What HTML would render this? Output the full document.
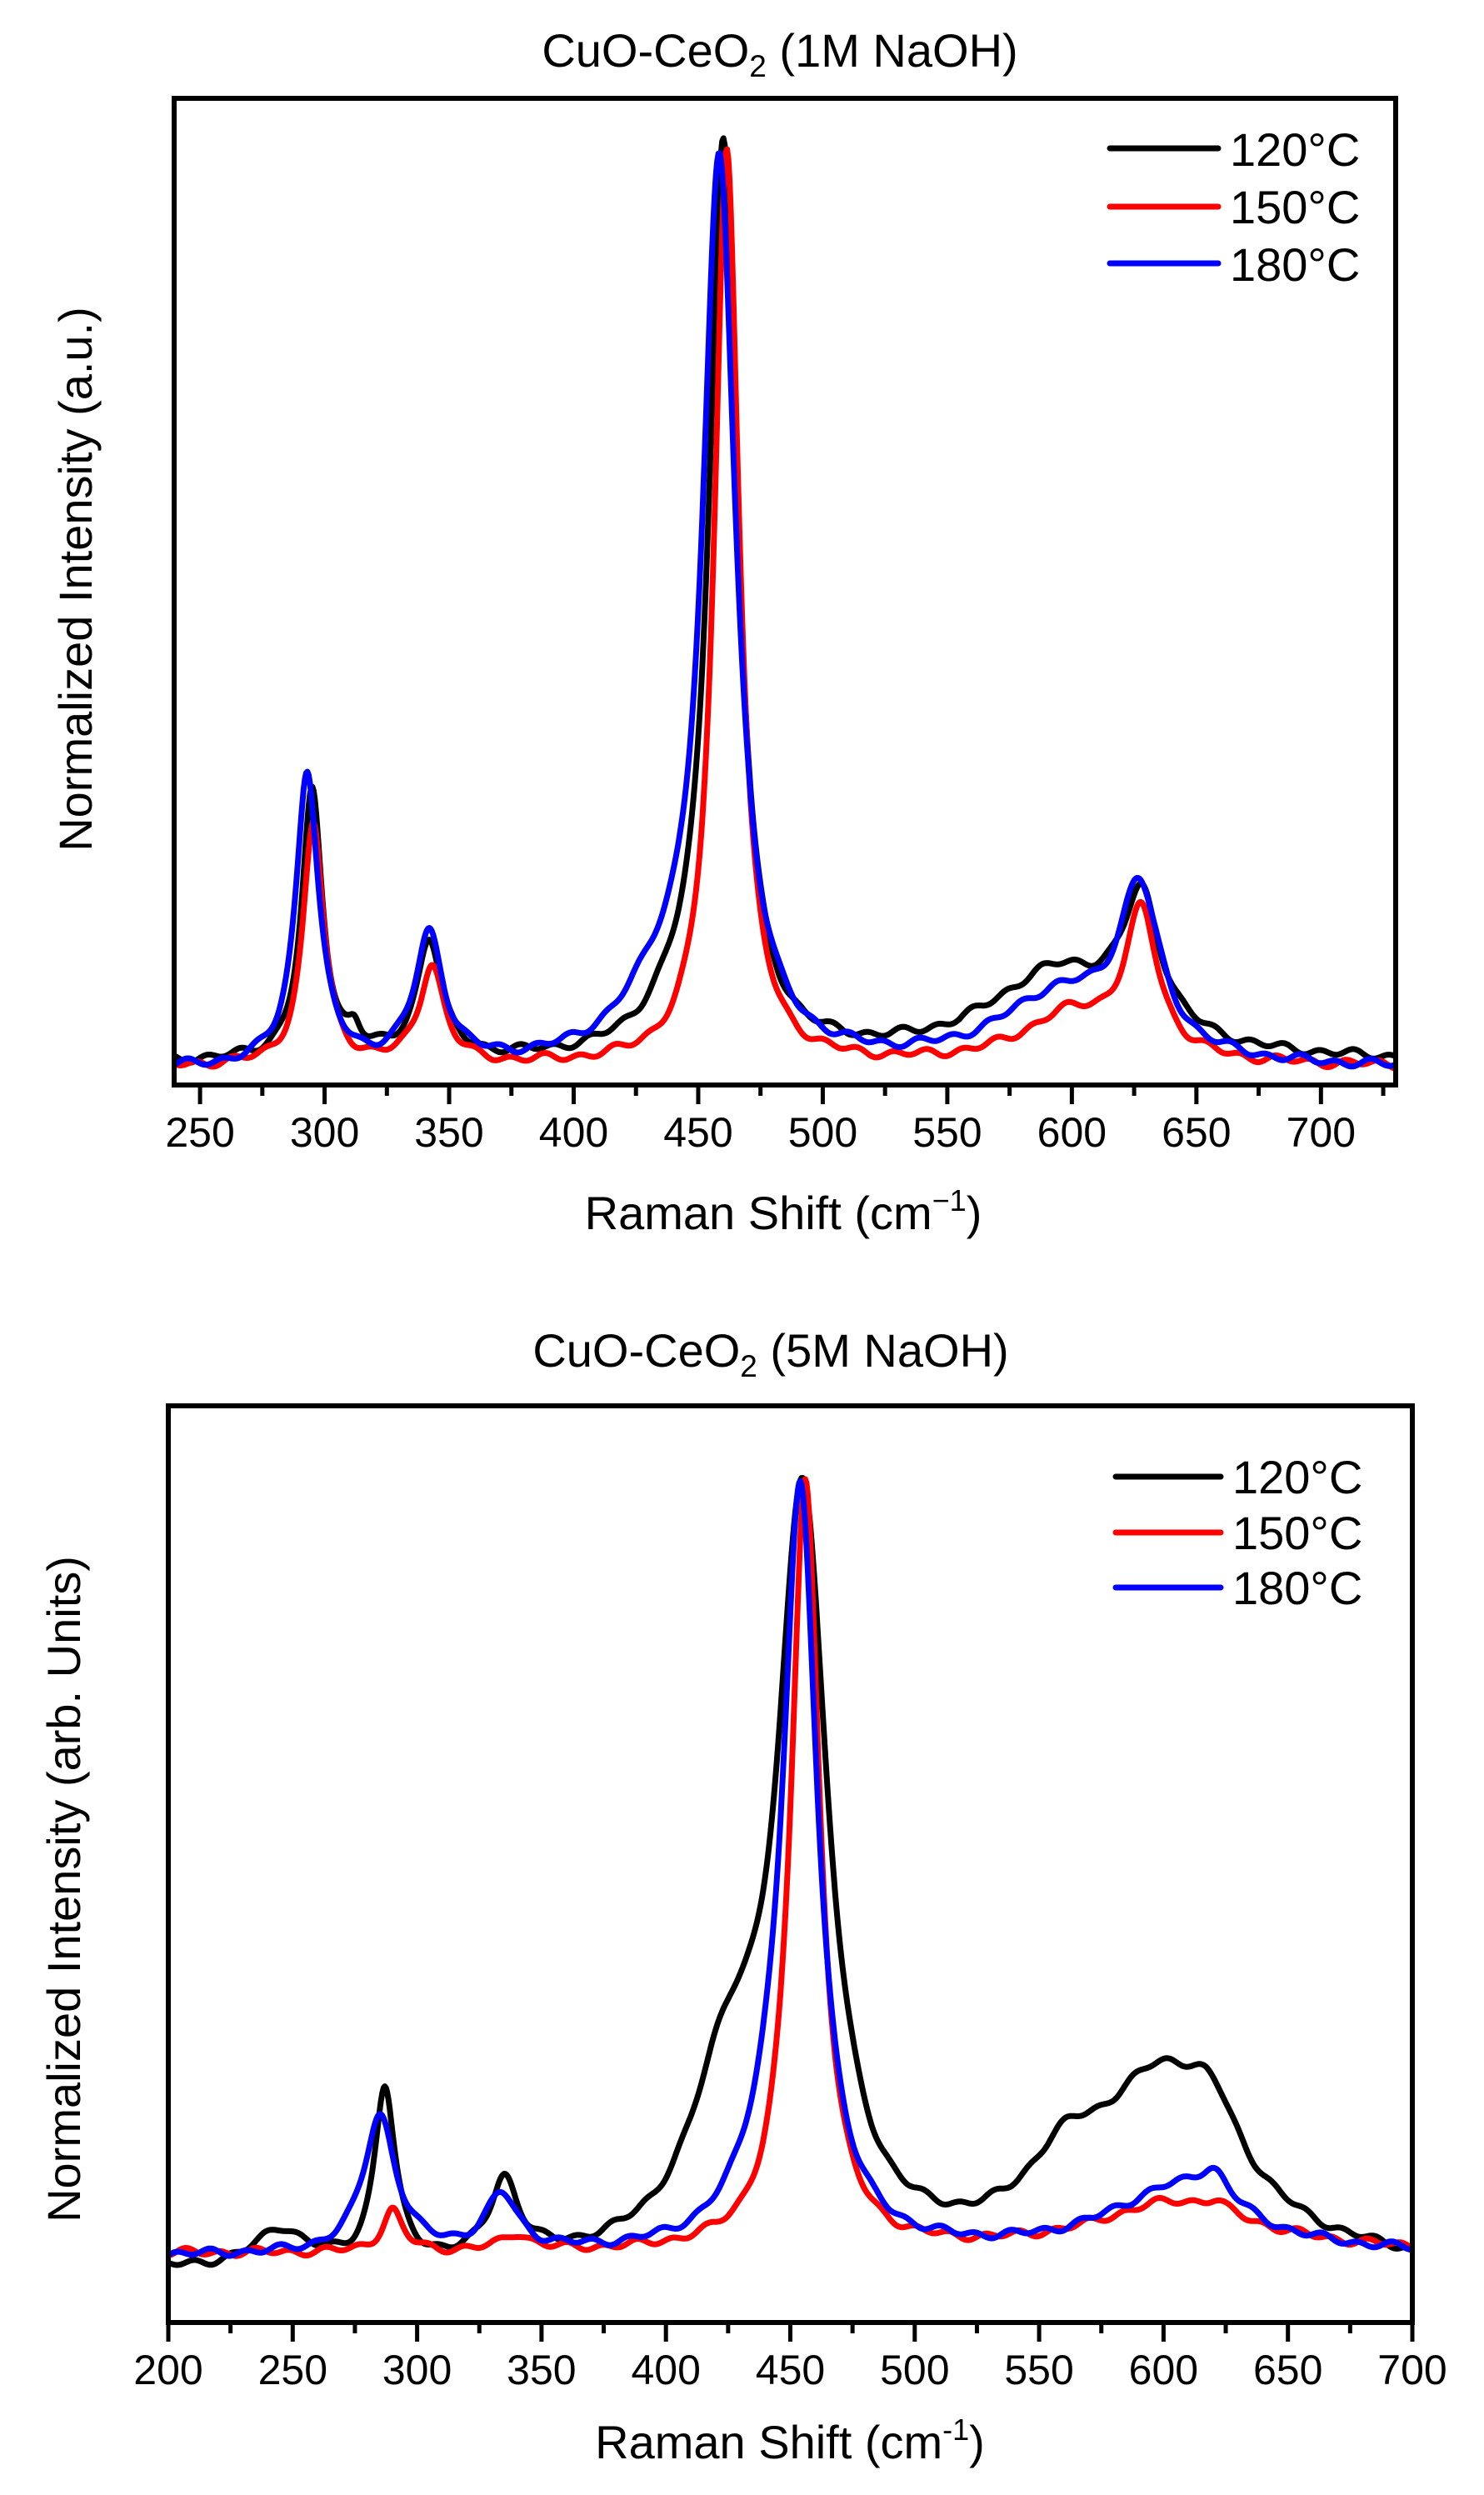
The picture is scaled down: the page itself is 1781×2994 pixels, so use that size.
<!DOCTYPE html>
<html><head><meta charset="utf-8">
<style>
html,body{margin:0;padding:0;background:#fff;}
svg{display:block;}
text{font-family:"Liberation Sans",Arial,sans-serif;fill:#000;}
</style></head>
<body>
<svg id="s" width="1781" height="2994" viewBox="0 0 1781 2994" xmlns="http://www.w3.org/2000/svg">
<rect width="1781" height="2994" fill="#fff"/>
<text x="936" y="80" font-size="56" text-anchor="middle">CuO-CeO<tspan font-size="37" dy="12">2</tspan><tspan dy="-12"> (1M NaOH)</tspan></text>
<text x="925" y="1640" font-size="56" text-anchor="middle">CuO-CeO<tspan font-size="37" dy="12">2</tspan><tspan dy="-12"> (5M NaOH)</tspan></text>
<text x="940" y="1475" font-size="56" text-anchor="middle">Raman Shift (cm<tspan font-size="36" dy="-22">−1</tspan><tspan dy="22">)</tspan></text>
<text x="948" y="2950" font-size="56" text-anchor="middle">Raman Shift (cm<tspan font-size="36" dy="-22">-1</tspan><tspan dy="22">)</tspan></text>
<text transform="translate(110,695) rotate(-90)" font-size="56" text-anchor="middle">Normalized Intensity (a.u.)</text>
<text transform="translate(96,2267) rotate(-90)" font-size="56" text-anchor="middle">Normalized Intensity (arb. Units)</text>
<g id="g1"></g>
<g id="g2"></g>
<g stroke-width="7" stroke-linecap="round">
<line x1="1332" y1="178" x2="1462" y2="178" stroke="#000"/>
<line x1="1332" y1="248" x2="1462" y2="248" stroke="#f00"/>
<line x1="1332" y1="316" x2="1462" y2="316" stroke="#00f"/>
<line x1="1339" y1="1772" x2="1465" y2="1772" stroke="#000"/>
<line x1="1339" y1="1839" x2="1465" y2="1839" stroke="#f00"/>
<line x1="1339" y1="1905" x2="1465" y2="1905" stroke="#00f"/>
</g>
<g font-size="56">
<text x="1476" y="199">120°C</text>
<text x="1476" y="268">150°C</text>
<text x="1476" y="337">180°C</text>
<text x="1479" y="1792">120°C</text>
<text x="1479" y="1859">150°C</text>
<text x="1479" y="1925">180°C</text>
</g>
</svg>
<script>
(function(){
var NS="http://www.w3.org/2000/svg";
function el(p,t,a){var e=document.createElementNS(NS,t);for(var k in a)e.setAttribute(k,a[k]);p.appendChild(e);return e;}
function model(base,peaks,x){var y=base;for(var i=0;i<peaks.length;i++){var p=peaks[i];var d=(x-p[0])/p[2];y+=p[1]/(1+d*d);}return y;}
function noise(x,seed){return 0.003*Math.sin(x*0.45+seed)+0.002*Math.sin(x*0.21+seed*3);}
function plot(g,cfg){
  var X=function(v){return cfg.L+(v-cfg.x0)/(cfg.x1-cfg.x0)*(cfg.R-cfg.L);};
  var Y=function(f){return cfg.B-f*(cfg.B-cfg.T);};
  cfg.series.forEach(function(s,si){
    var d="";
    for(var x=cfg.x0;x<=cfg.x1+0.001;x+=0.5){
      var f=model(s.base,s.peaks,x)+noise(x,si*1.7+1);
      d+=(d?"L":"M")+X(x).toFixed(1)+","+Y(f).toFixed(1);
    }
    el(g,"path",{d:d,fill:"none",stroke:s.c,"stroke-width":7,"stroke-linejoin":"round"});
  });
  el(g,"rect",{x:cfg.L,y:cfg.T,width:cfg.R-cfg.L,height:cfg.B-cfg.T,fill:"none",stroke:"#000","stroke-width":6});
  for(var v=cfg.t0;v<=cfg.x1+0.001;v+=25){
    var major=((v-cfg.t0)%50)==0;
    var xx=X(v);
    el(g,"line",{x1:xx,y1:cfg.B,x2:xx,y2:cfg.B+(major?23:13),stroke:"#000","stroke-width":5});
    if(major){var t=el(g,"text",{x:xx,y:cfg.B+74,"font-size":50,"text-anchor":"middle"});t.textContent=String(v);}
  }
}
plot(document.getElementById("g1"),{L:209,R:1675,T:118,B:1302,x0:239.6,x1:730,t0:250,series:[
 {c:"#000",base:0.022,peaks:[[460,0.92,7],[295,0.27,5],[342,0.12,6],[628,0.13,9],[595,0.09,35],[312,0.02,3],[440,0.03,15]]},
 {c:"#f00",base:0.018,peaks:[[461.5,0.93,6],[295.5,0.245,5],[343,0.10,6],[628,0.14,8],[600,0.05,25]]},
 {c:"#00f",base:0.015,peaks:[[458.5,0.90,8],[435,0.06,20],[293,0.30,5.5],[342,0.13,7],[627,0.16,10],[595,0.07,30]]}
]});
plot(document.getElementById("g2"),{L:202,R:1695,T:1687,B:2787,x0:200,x1:700,t0:200,series:[
 {c:"#000",base:0.055,peaks:[[455,0.81,12],[425,0.18,18],[287,0.19,5],[335,0.085,7],[245,0.04,12],[600,0.20,35],[620,0.05,12],[560,0.06,18]]},
 {c:"#f00",base:0.075,peaks:[[456,0.84,7],[290,0.045,5],[340,0.018,7],[605,0.055,40],[621,0.01,5]]},
 {c:"#00f",base:0.072,peaks:[[454,0.81,8.5],[440,0.05,15],[285,0.15,8],[334,0.06,8],[605,0.07,35],[620,0.035,8]]}
]});
})();
</script>
</body></html>
